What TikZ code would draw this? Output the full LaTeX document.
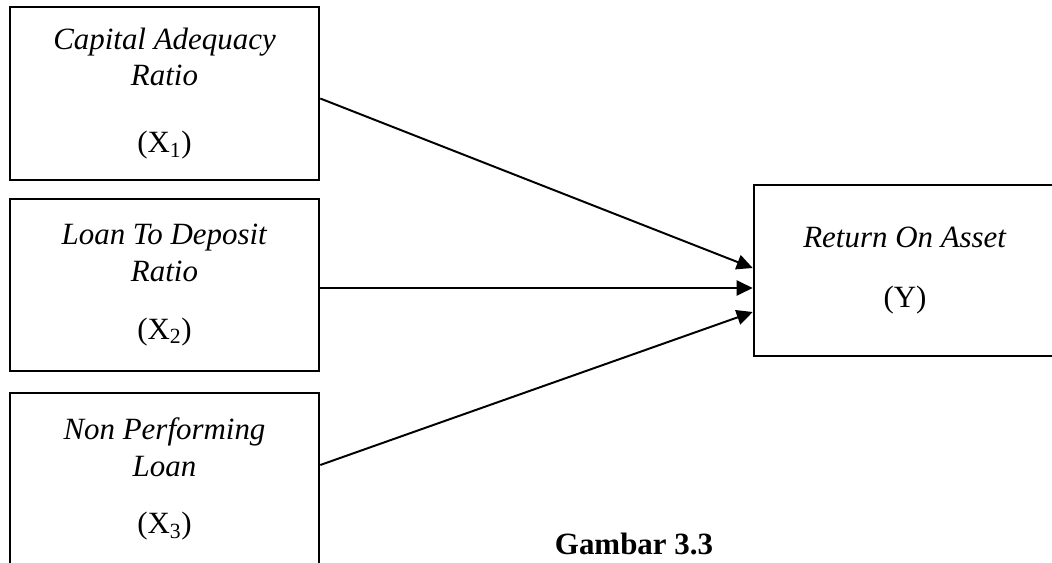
\documentclass[tikz,border=0pt]{standalone}
\usepackage{fontspec}
\setmainfont{Liberation Serif}
\usetikzlibrary{arrows.meta,positioning,calc}
\tikzset{
  varbox/.style ={draw=black, fill=white, line width=1.8pt,
                  minimum width=7.725cm, minimum height=4.3cm,
                  align=center, font=\fontsize{22}{26.2}\selectfont, inner sep=0pt},
  roabox/.style ={varbox, minimum width=7.55cm, minimum height=4.275cm},
  patharr/.style={-{Triangle[length=0.4cm,width=0.375cm]}, line width=1.4pt},
}

\begin{document}
\begin{tikzpicture}[x=1cm,y=1cm]
        \useasboundingbox (0,0) rectangle (26.3,14.05);
        \clip (0,0) rectangle (26.3,14.05);
        \node[varbox,minimum height=4.325cm] (car) at (4.1125,11.7125)
          {\textit{Capital Adequacy}\\\textit{Ratio}\\[0.75cm](X\textsubscript{1})};
        \node[varbox] (ldr) at (4.1125,6.925)
          {\textit{Loan To Deposit}\\\textit{Ratio}\\[0.525cm](X\textsubscript{2})};
        \node[varbox] (npl) at (4.1125,2.075)
          {\textit{Non Performing}\\\textit{Loan}\\[0.525cm](X\textsubscript{3})};
        \node[roabox] (roa) at (22.625,7.2875)
          {\textit{Return On Asset}\\[0.575cm](Y)};
        \node[anchor=base,font=\fontsize{22}{26}\selectfont\bfseries] (fig) at (15.85,0.2)
          {Gambar 3.3};
        \draw[patharr] ([yshift=-0.125cm]car.east) -- ([yshift=0.0625cm]roa.west);
        \draw[patharr] ([yshift=-0.075cm]ldr.east) -- ([yshift=-0.4375cm]roa.west);
        \draw[patharr] ([yshift=0.35cm]npl.east) -- ([yshift=-1.0375cm]roa.west);
      \end{tikzpicture}
\end{document}
